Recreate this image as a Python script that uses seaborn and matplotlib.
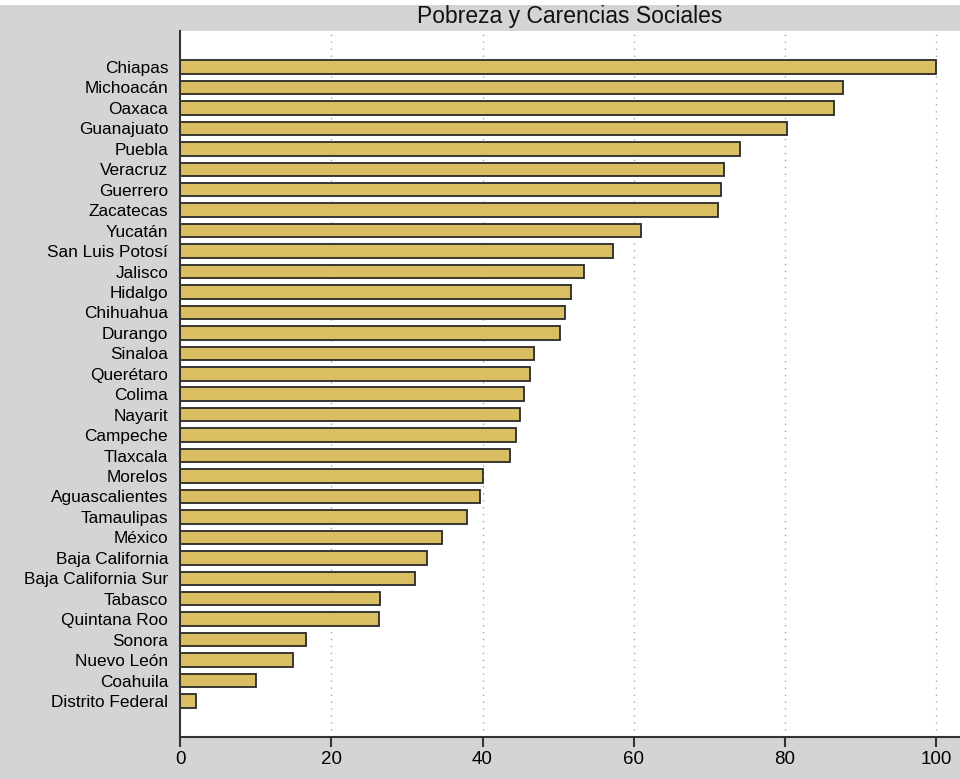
import matplotlib
matplotlib.use("Agg")
import matplotlib.pyplot as plt
import seaborn as sns
import pandas as pd
from matplotlib.patches import Rectangle

states = ["Chiapas", "Michoacán", "Oaxaca", "Guanajuato", "Puebla", "Veracruz",
          "Guerrero", "Zacatecas", "Yucatán", "San Luis Potosí", "Jalisco", "Hidalgo",
          "Chihuahua", "Durango", "Sinaloa", "Querétaro", "Colima", "Nayarit",
          "Campeche", "Tlaxcala", "Morelos", "Aguascalientes", "Tamaulipas", "México",
          "Baja California", "Baja California Sur", "Tabasco", "Quintana Roo",
          "Sonora", "Nuevo León", "Coahuila", "Distrito Federal"]
values = [100.0, 87.6, 86.5, 80.3, 74.0, 71.9,
          71.5, 71.1, 61.0, 57.2, 53.4, 51.7,
          50.9, 50.3, 46.8, 46.3, 45.5, 45.0,
          44.4, 43.6, 40.0, 39.7, 37.9, 34.7,
          32.6, 31.1, 26.4, 26.3,
          16.6, 14.9, 10.0, 2.1]
xticks = [0, 20, 40, 60, 80, 100]
title = "Pobreza y Carencias Sociales"

sns.set_style("white")
plt.rcParams['font.family'] = ['Liberation Sans', 'DejaVu Sans']

df = pd.DataFrame({"estado": states, "valor": values})

bg = "#d4d4d4"
fig = plt.figure(figsize=(9.6, 7.79), dpi=100, facecolor=bg)
fig.add_artist(Rectangle((0, 1 - 5 / 779), 1, 5 / 779, transform=fig.transFigure,
                         facecolor="white", edgecolor="none", zorder=0))
ax = fig.add_axes([180 / 960, 1 - 737 / 779, 1 - 180 / 960, (737 - 31) / 779])
ax.set_facecolor("white")

for t in xticks[1:]:
    ax.axvline(t, color="#a8a8a8", linestyle=(0, (1, 4)), linewidth=1.0, zorder=0)

sns.barplot(data=df, y="estado", x="valor", orient="h", color="#d9bf62",
            saturation=1, width=0.66, edgecolor="#2a2a2a", linewidth=1.3,
            ax=ax, zorder=2)

n = len(states)
ax.set_ylim(n - 1 + 1.76, -1.76)
ax.set_xlim(0, (960 - 180) / ((936.3 - 180) / 100))
ax.set_xticks(xticks)
ax.set_xticklabels([str(t) for t in xticks], fontsize=13.5)
ax.tick_params(axis="x", bottom=True, direction="out", length=7, width=1.5,
               color="#333333", pad=3, labelcolor="black")
ax.tick_params(axis="y", left=False, length=0, pad=8.5, labelsize=12.4,
               labelcolor="black")
ax.set_xlabel("")
ax.set_ylabel("")
ax.grid(False)

for s in ["top", "right"]:
    ax.spines[s].set_visible(False)
for s in ["left", "bottom"]:
    ax.spines[s].set_visible(True)
    ax.spines[s].set_color("#333333")
    ax.spines[s].set_linewidth(1.5)

fig.text((180 + 960) / 2 / 960, 1 - 16 / 779, title, ha="center", va="center",
         fontsize=16.5, color="#111111")

fig.savefig("out.png", dpi=100, facecolor=bg)
